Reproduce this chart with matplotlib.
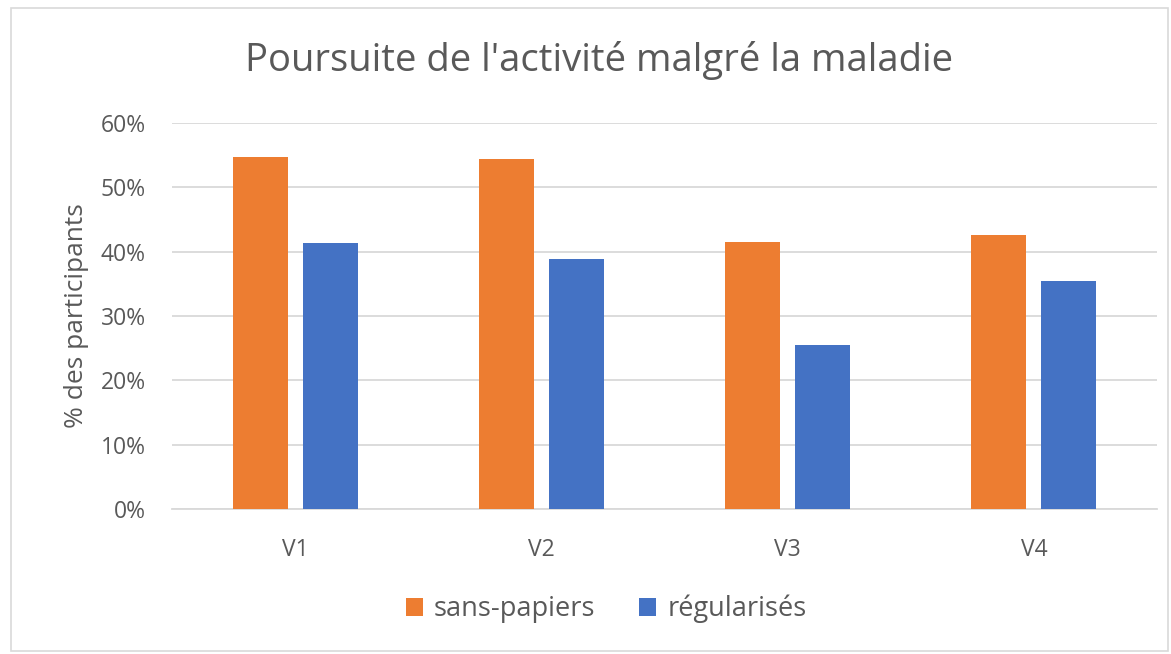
import matplotlib
matplotlib.use("Agg")
import matplotlib.pyplot as plt
from matplotlib.patches import Rectangle
import numpy as np

categories = ["V1", "V2", "V3", "V4"]
sans_papiers = [54.7, 54.4, 41.5, 42.6]
regularises = [41.3, 38.9, 25.5, 35.5]
series_names = ["sans-papiers", "régularisés"]
yticks = [0, 10, 20, 30, 40, 50, 60]

plt.rcParams['font.family'] = ['Open Sans', 'DejaVu Sans']
W, H = 1171, 654
fig = plt.figure(figsize=(W / 100, H / 100), dpi=100)
fig.patch.set_facecolor("white")

# outer chart border
fig.add_artist(Rectangle((11 / W, 1 - 651 / H), (1168 - 11) / W, (651 - 8) / H,
                         transform=fig.transFigure, fill=False,
                         edgecolor="#d9d9d9", linewidth=1.2))

left, right, top, bottom = 172, 1157, 123, 509
ax = fig.add_axes([left / W, 1 - bottom / H, (right - left) / W, (bottom - top) / H])

x = np.arange(len(categories))
bw = 0.224
off = 0.142
orange = "#ed7d31"
blue = "#4472c4"
ax.bar(x - off, sans_papiers, bw, color=orange, label=series_names[0], zorder=3)
ax.bar(x + off, regularises, bw, color=blue, label=series_names[1], zorder=3)

ax.set_xlim(-0.5, len(categories) - 0.5)
ax.set_ylim(0, 60)
ax.set_yticks(yticks)
ax.set_yticklabels([f"{v}%" for v in yticks])
ax.set_xticks(x)
ax.set_xticklabels(categories)
ax.yaxis.grid(True, color="#d9d9d9", linewidth=1.3, zorder=0)
ax.set_axisbelow(True)
for s in ["top", "right", "left"]:
    ax.spines[s].set_visible(False)
ax.spines["bottom"].set_color("#d9d9d9")
ax.spines["bottom"].set_linewidth(1.3)
ax.tick_params(axis="both", length=0, colors="#595959", labelsize=16.5)
ax.tick_params(axis="y", pad=19)
ax.tick_params(axis="x", pad=21)
ax.set_ylabel("% des participants", color="#595959", fontsize=19, labelpad=8)

fig.text(599 / W, 1 - 60 / H, "Poursuite de l'activité malgré la maladie",
         ha="center", va="center", fontsize=27.5, color="#595959")

leg = fig.legend(loc="center", bbox_to_anchor=(606 / W, 1 - 609 / H), ncol=2,
                 frameon=False, fontsize=19.5, handlelength=0.65, handleheight=0.65,
                 columnspacing=1.6, handletextpad=0.4)
for t in leg.get_texts():
    t.set_color("#595959")

fig.savefig("out.png", dpi=100, facecolor="white")
